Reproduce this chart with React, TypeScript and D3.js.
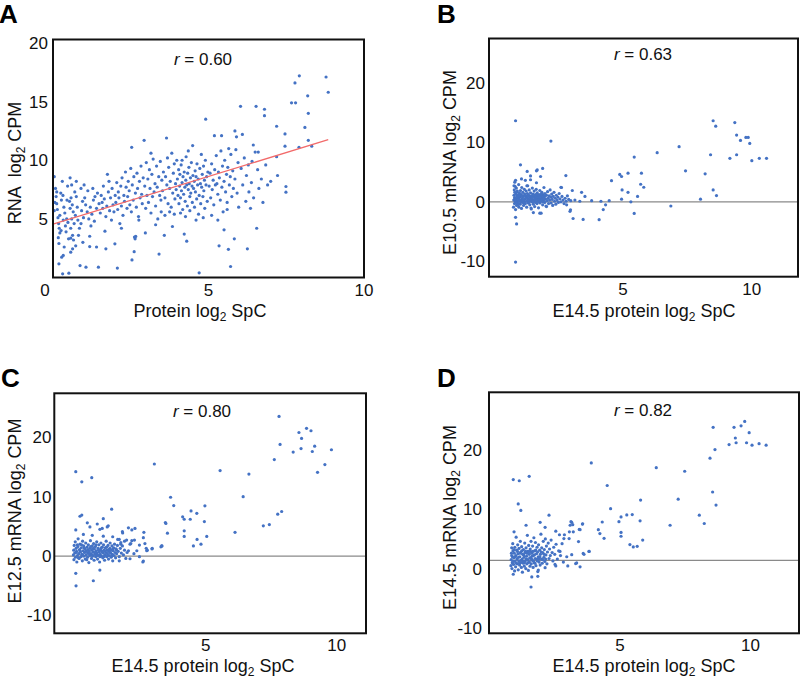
import React from 'react';
import * as d3 from 'd3';

type Pt = [number, number];

// ---------- DATA ----------
const panelLetters = ['A', 'B', 'C', 'D'];
const rValues = ['0.60', '0.63', '0.80', '0.82'];
const yTitlePre = ['RNA  log', 'E10.5 mRNA log', 'E12.5 mRNA log', 'E14.5 mRNA log'];
const yTitlePost = [' CPM', ' CPM', ' CPM', ' CPM'];
const xTitlePre = ['Protein log', 'E14.5 protein log', 'E14.5 protein log', 'E14.5 protein log'];
const xTitlePost = [' SpC', ' SpC', ' SpC', ' SpC'];
const xTicksA = [0, 5, 10];
const yTicksA = [5, 10, 15, 20];
const xTicksBCD = [5, 10];
const yTicksBCD = [-10, 0, 10, 20];
const refLineY = [null, 0, 0, 1.4];
const fitLineA: Pt[] = [[0, 4.55], [8.85, 11.75]];

const pointsA: Pt[] = [
  [0.04,8.6],[0.04,5.7],[0.08,7.6],[0.1,6.9],[0.12,6.3],[0.14,5.8],[0.16,5.1],[0.18,4.6],[0.2,4.2],[0.22,3.8],[0.17,3.4],[0.19,2.9],[0.28,1.73],[0.33,1.88],[0.19,1.17],[0.31,0.31],[0.51,0.37],[0.25,7.2],[0.27,6.6],[0.3,8.2],[0.32,7.0],[0.35,6.0],[0.38,5.5],[0.33,4.9],[0.4,4.4],[0.42,3.9],[0.45,6.6],[0.47,7.8],[0.22,5.3],[0.26,4.0],[0.36,2.6],[0.44,5.0],[0.12,7.3],[0.06,6.4],[0.48,4.7],[0.5,3.3],
  [0.55,8.5],[0.6,7.9],[0.58,6.8],[0.62,6.2],[0.55,5.9],[0.65,5.6],[0.6,5.0],[0.68,4.6],[0.57,4.2],[0.63,3.6],[0.57,2.16],[0.63,2.45],[0.7,7.3],[0.75,6.9],[0.78,6.0],[0.72,5.3],[0.8,4.9],[0.85,4.2],[0.87,1.02],[0.9,7.6],[0.95,6.5],[0.92,5.7],[0.98,5.1],[0.66,3.2],[0.73,2.7],[0.82,3.6],[0.75,8.2],[0.9,4.6],[0.53,6.5],[0.96,3.0],[0.57,3.35],
  [1.02,6.8],[1.05,6.2],[1.06,0.88],[1.1,5.6],[1.12,7.4],[1.15,5.0],[1.18,3.52],[1.18,2.64],[1.2,6.0],[1.25,5.4],[1.28,7.6],[1.3,6.6],[1.33,4.8],[1.35,6.9],[1.4,2.6],[1.4,5.9],[1.43,7.2],[1.46,0.88],[1.48,6.3],[1.0,7.9],[1.22,4.4],
  [1.52,5.5],[1.55,7.0],[1.58,6.4],[1.6,5.9],[1.62,7.8],[1.65,6.7],[1.67,3.95],[1.7,2.45],[1.7,5.2],[1.73,6.1],[1.78,7.3],[1.8,8.2],[1.82,5.7],[1.85,6.8],[1.88,4.9],[1.9,7.6],[1.93,6.2],[1.96,5.6],[1.99,2.87],[2.0,7.0],[1.75,8.8],
  [2.02,6.4],[2.05,8.1],[2.07,0.8],[2.08,5.8],[2.1,7.3],[2.12,6.8],[2.15,4.6],[2.18,7.8],[2.2,6.1],[2.22,8.5],[2.25,5.3],[2.28,7.0],[2.3,6.5],[2.33,9.0],[2.35,7.7],[2.38,5.9],[2.4,6.9],[2.42,8.2],[2.45,7.4],[2.47,6.2],[2.5,9.3],[2.53,11.1],[2.54,1.5],[2.2,4.2],
  [2.52,5.6],[2.55,7.9],[2.58,6.6],[2.6,8.6],[2.61,2.2],[2.62,3.45],[2.64,3.3],[2.66,3.5],[2.65,7.2],[2.68,6.0],[2.7,8.9],[2.72,7.6],[2.75,5.2],[2.78,8.2],[2.8,6.8],[2.83,9.5],[2.85,7.1],[2.87,6.3],[2.9,8.5],[2.93,11.7],[2.95,7.8],[2.97,3.8],[2.98,5.9],[3.0,9.8],[2.76,4.9],
  [3.02,7.0],[3.05,8.4],[3.07,6.4],[3.1,9.2],[3.12,7.6],[3.15,5.5],[3.18,8.8],[3.2,6.9],[3.22,10.1],[3.25,7.3],[3.28,8.0],[3.3,6.1],[3.33,9.5],[3.35,7.7],[3.37,5.0],[3.4,8.6],[3.41,2.0],[3.43,7.0],[3.45,9.9],[3.47,6.6],[3.5,8.3],[3.48,5.6],[3.3,4.5],[3.15,10.6],
  [3.52,7.4],[3.55,9.0],[3.58,3.6],[3.6,6.8],[3.62,8.6],[3.65,11.9],[3.66,7.9],[3.68,10.2],[3.7,6.3],[3.72,9.4],[3.75,7.6],[3.77,8.2],[3.8,6.0],[3.82,10.6],[3.84,4.35],[3.85,7.2],[3.87,8.9],[3.9,9.7],[3.92,6.7],[3.94,8.0],[3.96,7.5],[3.98,10.0],[3.6,5.3],[3.75,5.6],[3.9,5.4],
  [4.0,8.4],[4.02,7.0],[4.04,9.2],[4.05,6.3],[4.07,7.8],[4.08,8.8],[4.1,6.8],[4.12,9.6],[4.13,7.4],[4.15,8.1],[4.17,5.8],[4.18,8.6],[4.2,7.1],[4.22,3.7],[4.22,9.0],[4.24,7.7],[4.25,6.5],[4.27,8.3],[4.28,10.3],[4.3,3.1],[4.3,7.9],[4.32,6.1],[4.33,8.9],[4.35,7.5],[4.37,9.4],[4.38,8.0],[4.4,6.9],[4.42,8.5],[4.43,7.2],[4.45,9.8],[4.47,7.8],[4.48,6.4],[4.49,11.25],[4.5,8.7],[4.1,5.5],[4.26,5.2],[4.4,5.7],[4.15,10.0],[4.35,10.8],
  [4.52,7.6],[4.54,8.2],[4.55,6.0],[4.57,9.1],[4.58,7.3],[4.6,8.6],[4.62,6.7],[4.63,9.7],[4.65,7.9],[4.67,8.4],[4.68,5.4],[4.7,0.4],[4.7,7.0],[4.72,9.3],[4.74,8.0],[4.75,6.3],[4.77,10.5],[4.78,7.7],[4.8,8.8],[4.82,6.9],[4.84,9.5],[4.85,7.4],[4.87,8.3],[4.88,5.9],[4.9,10.0],[4.91,13.5],[4.92,7.9],[4.94,8.6],[4.96,6.5],[4.98,9.0],[4.6,4.9],[4.83,5.1],
  [5.02,7.8],[5.05,8.9],[5.07,6.8],[5.1,9.7],[5.12,7.5],[5.15,8.3],[5.17,6.2],[5.19,12.1],[5.2,9.2],[5.22,7.9],[5.25,10.4],[5.27,8.0],[5.3,7.1],[5.32,9.0],[5.34,2.7],[5.35,8.5],[5.38,6.6],[5.4,10.8],[5.42,12.1],[5.43,7.7],[5.45,9.5],[5.47,5.6],[5.5,4.07],[5.5,8.2],[5.1,5.3],[5.3,4.9],
  [5.52,10.0],[5.55,7.3],[5.58,8.8],[5.6,6.4],[5.62,9.4],[5.64,2.4],[5.65,11.0],[5.67,7.9],[5.7,8.6],[5.71,0.94],[5.72,10.5],[5.75,6.9],[5.78,9.1],[5.8,7.6],[5.83,3.3],[5.85,12.5],[5.85,8.4],[5.88,10.9],[5.9,12.0],[5.92,7.2],[5.95,9.8],[5.97,6.0],[5.6,5.8],
  [6.03,14.6],[6.05,9.3],[6.09,12.2],[6.1,7.9],[6.15,10.2],[6.2,6.5],[6.22,8.7],[6.25,2.45],[6.28,9.6],[6.3,7.3],[6.35,5.9],[6.38,8.1],[6.4,9.9],[6.44,11.3],[6.45,6.8],[6.5,10.7],[6.53,14.6],
  [6.55,4.2],[6.58,9.2],[6.6,10.7],[6.62,7.6],[6.7,8.4],[6.75,6.4],[6.8,14.35],[6.8,13.8],[6.84,9.6],[6.9,7.9],[7.0,8.2],
  [7.19,12.9],[7.19,10.3],[7.22,8.7],[7.46,12.25],[7.46,11.2],[7.49,7.76],[7.49,7.28],[7.67,14.9],[7.78,16.6],[7.8,14.9],[7.91,11.1],[7.92,17.2],[8.1,12.8],[8.19,15.5],[8.21,14.0],[8.21,11.7],[8.32,11.2],[8.78,17.1],[8.85,15.8]
];

const pointsB: Pt[] = [
  [0.84,13.6],[2.21,10.2],[0.84,-10.1],[1.03,6.2],[1.89,5.6],[1.65,5.2],[1.29,5.1],[1.42,4.35],[1.07,3.85],[1.65,3.2],[1.22,3.6],[0.84,3.6],[0.84,-2.6],[0.88,-3.7],[2.79,4.4],[2.62,2.4],[3.04,1.9],[3.4,1.6],[3.53,0.9],[2.98,0.2],[3.14,0.3],[3.33,0.1],[3.79,0.2],[4.15,0.1],[4.47,0.2],[2.95,-1.6],[3.07,-2.8],[3.46,-2.95],[4.08,-3.0],[4.24,-1.3],[4.33,-0.5],[4.56,3.55],[4.88,4.6],[4.95,4.25],[5.2,4.8],[4.97,2.0],[5.2,1.6],[4.95,0.45],[5.31,0],[5.44,7.5],[5.72,4.8],[5.69,2.95],[5.81,2.45],[5.57,0.9],[5.44,-1.95],[6.33,8.25],[7.18,9.25],[7.43,5.2],[6.86,-0.7],[8.01,0.45],[8.19,4.7],[8.4,7.9],[8.5,13.6],[8.6,12.7],[8.5,2.0],[8.63,1.05],[9.34,13.3],[9.41,11.2],[9.56,10.3],[9.77,10.8],[9.86,10.8],[9.92,9.8],[9.41,7.9],[9.15,7.3],[10.0,6.9],[10.29,7.3],[10.57,7.3],
  [1.68,5.36],[1.81,4.25],[1.42,3.7],[0.81,3.3],[0.78,2.7],[1.28,2.7],[2.6,2.45],[1.44,-1.05],[1.53,-1.8],[1.78,-1.9],[2.82,-0.5],[2.97,-1.34],
  [0.76,-0.9],[0.77,0.3],[0.78,1.1],[0.79,2.0],[0.8,-0.3],[0.8,0.7],[0.81,1.6],[0.82,2.6],[0.83,0.0],[0.84,-1.3],[0.85,0.5],[0.86,1.3],[0.87,2.3],[0.88,-0.6],[0.89,0.9],[0.9,0.2],[0.91,1.8],[0.92,-0.2],[0.93,1.1],[0.95,0.6],[0.96,2.9],[0.97,-0.9],[0.98,0.1],[0.99,1.5],
  [1.01,0.8],[1.02,-0.4],[1.03,1.9],[1.05,0.3],[1.06,1.2],[1.07,-1.1],[1.08,2.4],[1.1,0.6],[1.11,-0.1],[1.12,1.6],[1.14,0.9],[1.15,-0.6],[1.16,0.2],[1.18,2.1],[1.19,1.3],[1.2,0.5],
  [1.22,-0.3],[1.23,1.0],[1.25,1.8],[1.26,0.1],[1.27,-0.9],[1.28,0.7],[1.3,1.4],[1.31,2.7],[1.33,-0.2],[1.34,0.4],[1.35,1.1],[1.37,2.0],[1.38,0.8],[1.39,-0.5],[1.4,0.2],
  [1.42,1.5],[1.43,0.6],[1.45,-1.2],[1.46,1.0],[1.47,0.0],[1.49,2.3],[1.5,0.4],[1.51,1.3],[1.53,-0.4],[1.54,0.9],[1.56,1.8],[1.57,0.2],[1.58,-0.8],[1.6,0.7],[1.61,1.2],
  [1.63,0.0],[1.64,2.1],[1.66,0.5],[1.67,-0.3],[1.68,1.5],[1.7,0.9],[1.72,0.2],[1.73,-1.0],[1.75,1.2],[1.76,0.6],[1.78,1.9],[1.79,-0.2],[1.8,0.4],[1.82,1.0],[1.83,-1.9],
  [1.85,0.1],[1.86,1.6],[1.88,0.7],[1.89,-0.5],[1.9,1.2],[1.92,0.3],[1.94,2.4],[1.95,0.9],[1.97,-0.1],[1.98,1.4],[2.0,0.5],[2.02,-0.7],[2.04,1.1],[2.04,-0.8],[2.06,0.2],[2.08,1.7],[2.1,0.6],[2.12,-0.3],[2.14,1.0],[2.16,0.3],[2.18,2.0],[2.2,0.8],[2.22,-0.2],[2.24,1.3],[2.26,0.4],[2.28,-0.6],[2.3,0.9],[2.33,1.6],[2.35,0.1],[2.38,0.6],[2.4,-0.4],[2.42,1.1],[2.45,0.3],[2.48,0.8],[2.5,-0.1],[2.53,1.4],[2.56,0.5],[2.6,0.0],[2.64,0.9],[2.68,0.3],[2.72,-0.3],[2.76,0.6],[2.8,0.1],[2.85,1.0],[2.9,0.4],
  [0.82,0.4],[0.85,-0.1],[0.88,1.6],[0.92,0.9],[0.94,-0.5],[0.97,0.4],[1.0,1.2],[1.04,0.0],[1.09,1.0],[1.13,0.3],[1.17,-0.2],[1.21,1.1],[1.24,0.6],[1.29,0.2],[1.32,1.0],[1.36,-0.1],[1.41,0.9],[1.44,0.3],[1.48,0.7],[1.52,0.0],[1.55,1.1],[1.59,0.4],[1.62,-0.1],[1.65,0.9],[1.69,0.3],[1.71,1.1],[1.74,0.0],[1.77,0.8],[1.81,0.2],[1.84,1.3],[1.87,0.4],[1.91,0.0],[1.93,0.8],[1.96,0.4],[1.99,1.0]
];

const pointsC: Pt[] = [
  [7.8,23.5],[8.56,20.8],[8.85,21.5],[9.02,21.1],[8.66,19.8],[9.16,18.5],[7.84,18.8],[8.34,17.5],[8.64,18.1],[9.07,17.6],[9.8,17.9],[7.62,16.25],[9.55,15.4],[9.27,14.1],[5.55,14.4],[6.65,13.8],[3.04,15.5],[0.04,14.2],[0.27,12.5],[0.65,13.2],[6.43,10.0],[3.66,9.9],[3.78,8.5],[4.97,8.45],[1.41,7.9],[4.44,7.6],[4.66,7.2],[4.12,6.6],[4.18,6.2],[4.41,6.2],[4.95,5.8],[0.2,6.7],[0.27,6.9],[3.46,5.65],[3.54,3.85],[3.33,1.7],[3.29,1.55],[4.18,4.25],[4.18,3.3],[4.53,1.7],[4.67,2.8],[4.82,2.0],[5.04,3.3],[6.12,4.0],[7.2,5.1],[7.43,5.3],[7.75,7.05],[7.9,7.5],[2.95,1.2],[2.75,0.9],[2.73,1.3],[2.47,-0.1],[2.6,-1.0],[2.64,4.0],[2.62,3.1],[2.68,2.1],[0.04,-2.9],[0.05,-5.0],[0.71,-4.15],[0.96,-2.35],[0.48,5.6],[0.58,4.9],[0.86,5.4],[0.96,4.5],[1.09,6.3],[1.24,4.9],[2.05,4.75],[2.18,4.4],[2.3,4.65],[2.28,2.7],[2.11,2.0],[1.9,2.5],[1.76,2.0],[1.6,1.0],[1.83,3.9],[1.45,3.25],[1.64,2.8],
  [0.04,4.4],[0.33,3.65],[0.67,3.5],[1.09,3.35],[1.82,4.1],[2.18,2.6],[1.98,2.7],[1.7,2.8],[1.76,2.25],[2.14,2.1],[2.47,1.85],[2.37,0.9],[2.05,0.9],[2.26,0.4],[2.77,1.0],[2.96,1.3],[2.62,-0.85],[2.11,-0.45],[1.7,-0.8],[3.32,1.7],[3.48,5.5],[1.05,4.65],[1.28,5.1],
  [-0.05,0.2],[-0.04,1.0],[-0.03,-0.6],[-0.02,1.8],[0.0,0.5],[0.02,2.4],[0.03,-0.2],[0.05,1.3],[0.07,0.8],[0.08,-1.0],[0.1,0.1],[0.12,1.6],[0.13,2.9],[0.15,0.4],[0.17,-0.4],[0.18,1.1],[0.2,2.0],[0.22,0.7],[0.24,-0.1],[0.25,1.4],[0.27,0.3],[0.29,-0.8],[0.3,2.5],[0.32,0.9],[0.34,1.7],[0.35,0.0],[0.37,0.6],[0.39,1.2],[0.4,-0.5],[0.42,2.2],[0.44,0.2],[0.45,0.9],[0.47,1.5],[0.49,-0.2],[0.5,0.5],[0.52,1.9],[0.54,-1.1],[0.55,0.8],[0.57,0.1],[0.59,1.3],[0.6,2.6],[0.62,0.4],[0.64,-0.4],[0.65,1.0],[0.67,1.7],[0.69,0.0],[0.7,0.7],[0.72,2.1],[0.74,-0.7],[0.75,1.2],[0.77,0.3],[0.79,1.6],[0.8,-0.1],[0.82,0.9],[0.84,2.4],[0.85,0.5],[0.87,-0.5],[0.89,1.3],[0.9,0.1],[0.92,1.9],[0.94,0.7],[0.95,-1.0],[0.97,0.3],[0.99,1.1],[1.0,2.2],[1.02,0.0],[1.04,0.8],[1.05,1.5],[1.07,-0.3],[1.09,0.5],[1.1,1.9],[1.12,1.0],[1.14,-0.7],[1.15,0.2],[1.17,1.4],[1.19,0.6],[1.2,2.5],[1.22,-0.1],[1.24,1.0],[1.25,0.4],[1.27,1.8],[1.29,-0.5],[1.3,0.8],[1.32,0.1],[1.34,1.3],[1.35,2.2],[1.37,0.5],[1.39,-0.2],[1.4,1.0],[1.42,1.7],[1.44,0.3],[1.45,-0.8],[1.47,0.9],[1.49,1.4],[1.5,0.1],[1.52,2.0],[1.54,0.6],[1.56,-0.3],[1.58,1.2],[1.6,0.4],[1.63,1.8],[1.66,0.8],[1.7,-0.1],[1.74,1.3],[1.78,0.5],[1.82,1.7],[1.86,0.2],[1.9,1.0],[1.95,-0.4],[2.0,0.6],
  [0.05,0.6],[0.1,1.9],[0.14,-0.3],[0.2,0.9],[0.26,1.9],[0.31,0.2],[0.36,1.4],[0.41,0.7],[0.46,-0.6],[0.51,1.1],[0.56,0.4],[0.61,1.6],[0.66,0.2],[0.71,1.3],[0.76,0.6],[0.81,1.9],[0.86,0.2],[0.91,1.0],[0.96,-0.1],[1.01,1.4],[1.06,0.6],[1.11,-0.1],[1.16,0.9],[1.21,1.5],[1.26,0.1],[1.31,1.1],[1.36,0.6],[1.41,0.0],[1.46,1.2]
];

const pointsD: Pt[] = [
  [8.57,23.8],[9.37,23.8],[9.64,24.05],[9.78,24.8],[9.95,22.9],[9.42,22.0],[9.45,21.2],[9.18,20.9],[9.85,21.2],[10.06,20.8],[10.33,21.05],[10.6,20.8],[8.64,20.05],[8.45,18.6],[3.9,17.8],[6.39,17.0],[7.48,16.4],[4.51,14.0],[8.55,12.9],[8.68,10.7],[7.23,11.7],[5.79,11.55],[4.64,10.1],[8.04,9.0],[8.23,7.6],[6.92,7.3],[5.26,9.05],[5.47,9.1],[5.04,8.7],[4.96,7.9],[5.77,8.05],[5.04,6.1],[5.04,5.45],[5.38,4.05],[5.51,3.65],[5.66,3.75],[5.87,4.8],[4.32,7.85],[4.17,6.55],[4.23,5.9],[4.39,5.1],[3.82,2.9],[3.59,2.55],[3.57,7.55],[3.44,6.6],[3.12,7.9],[3.19,7.4],[3.06,6.2],[2.85,5.05],[3.21,6.2],[3.34,0.95],[3.47,0.3],[2.28,9.0],[0.91,15.0],[1.14,14.8],[1.52,15.55],[1.1,10.9],[1.2,9.8],[1.59,-3.1],[1.62,-1.4],[1.85,-1.3],[0.91,-0.95],[0.94,6.2],[1.4,7.3],[1.94,7.8],[2.13,6.95],[2.54,6.3],[2.68,5.7],[2.87,5.7],[3.05,5.05],[3.15,7.8],[3.09,7.3],[3.56,7.5],[3.47,6.55],[3.41,4.55],[3.62,2.4],[3.81,2.9],[3.3,0.85],[3.15,2.35],[2.96,2.0],[2.7,2.9],[2.51,0.7],[2.54,0.45],[3.0,0.45],[2.83,1.1],[2.13,0.15],[1.87,-0.25],
  [0.82,0.5],[0.83,1.5],[0.84,2.6],[0.85,3.5],[0.86,0.0],[0.87,1.0],[0.88,2.0],[0.89,4.2],[0.9,3.0],[0.92,0.7],[0.93,1.8],[0.95,2.6],[0.96,-0.4],[0.97,3.6],[0.98,1.2],[1.0,0.3],[1.01,2.2],[1.02,5.3],[1.04,3.1],[1.05,1.6],[1.06,0.8],[1.08,4.0],[1.09,2.5],[1.1,-0.2],[1.12,1.3],[1.13,3.4],[1.15,0.6],[1.16,2.0],[1.18,4.6],[1.19,1.0],[1.2,2.8],[1.22,0.2],[1.23,3.7],[1.25,1.6],[1.26,-0.6],[1.27,2.4],[1.29,0.9],[1.3,3.2],[1.32,1.9],[1.33,0.4],[1.35,4.3],[1.36,2.7],[1.37,1.3],[1.39,0.0],[1.4,3.5],[1.42,2.1],[1.43,0.8],[1.45,5.6],[1.46,2.9],[1.47,1.5],[1.49,-0.3],[1.5,3.9],[1.52,2.4],[1.53,1.1],[1.55,0.4],[1.56,3.3],[1.58,1.8],[1.59,4.6],[1.6,0.8],[1.62,2.6],[1.64,1.4],[1.65,3.8],[1.67,0.2],[1.68,2.2],[1.7,5.2],[1.71,1.0],[1.73,3.0],[1.75,1.7],[1.76,4.4],[1.78,0.5],[1.8,2.5],[1.82,3.6],[1.83,1.3],[1.85,-0.5],[1.87,2.0],[1.88,4.0],[1.9,1.1],[1.92,3.1],[1.94,0.6],[1.95,2.4],[1.97,5.8],[1.99,1.6],[2.0,3.5],[2.02,0.9],[2.04,2.7],[2.06,4.6],[2.08,1.9],[2.1,3.2],[2.12,1.2],[2.14,5.0],[2.16,2.3],[2.18,3.8],[2.2,0.8],[2.22,2.8],[2.25,4.3],[2.28,1.7],[2.3,3.3],[2.33,2.2],[2.36,4.8],[2.4,2.7],[2.43,1.3],[2.46,3.6],[2.5,2.4],[2.55,4.1],[2.6,1.6],[2.65,3.0],[2.72,2.2],[2.78,4.2],
  [0.85,2.2],[0.9,1.2],[0.94,3.2],[0.99,2.0],[1.03,0.9],[1.07,2.9],[1.11,1.9],[1.14,0.9],[1.17,2.6],[1.21,1.4],[1.24,3.0],[1.28,1.2],[1.31,2.3],[1.34,1.0],[1.38,2.9],[1.41,1.6],[1.44,2.6],[1.48,1.0],[1.51,2.9],[1.54,1.8],[1.57,2.9],[1.61,1.6],[1.63,2.1],[1.66,2.9],[1.69,1.3],[1.72,2.3],[1.74,0.9],[1.77,3.1],[1.81,1.6],[1.84,2.8],[1.89,1.6],[1.93,2.0],[1.98,2.8],[2.03,1.5],[2.09,2.4],[2.15,1.6]
];

// ---------- LAYOUT ----------
interface PanelCfg {
  idx: number;
  box: [number, number, number, number]; // left, top, right, bottom
  xDom: [number, number];
  yDom: [number, number];
  xTicks: number[];
  yTicks: number[];
  data: Pt[];
  letterPos: [number, number];
  rPos: [number, number];
  yTitlePos: [number, number];
  xTitlePos: [number, number];
  yLabelRight: number;
  fit?: Pt[];
}

const panels: PanelCfg[] = [
  { idx: 0, box: [53, 39.5, 364, 277.5], xDom: [0, 10], yDom: [0, 20.3], xTicks: xTicksA, yTicks: yTicksA, data: pointsA,
    letterPos: [-1, 23], rPos: [203, 65], yTitlePos: [21, 163], xTitlePos: [200, 317], yLabelRight: 48, fit: fitLineA },
  { idx: 1, box: [489, 38.5, 798, 276.7], xDom: [-0.19, 11.79], yDom: [-12.56, 27.4], xTicks: xTicksBCD, yTicks: yTicksBCD, data: pointsB,
    letterPos: [437, 23], rPos: [643, 60], yTitlePos: [456, 162.5], xTitlePos: [644, 317], yLabelRight: 485 },
  { idx: 2, box: [54.3, 393.3, 366, 633.3], xDom: [-0.78, 11.12], yDom: [-13.0, 27.4], xTicks: xTicksBCD, yTicks: yTicksBCD, data: pointsC,
    letterPos: [1, 387], rPos: [202, 416.5], yTitlePos: [21, 511], xTitlePos: [203, 672], yLabelRight: 51.5 },
  { idx: 3, box: [489, 392.3, 799, 633.3], xDom: [-0.02, 11.86], yDom: [-10.9, 29.7], xTicks: xTicksBCD, yTicks: yTicksBCD, data: pointsD,
    letterPos: [437, 387], rPos: [643, 416], yTitlePos: [456, 517.5], xTitlePos: [644, 672], yLabelRight: 482 },
];

const FONT = '"Liberation Sans", Arial, Helvetica, sans-serif';
const DOT = '#4472c4';

function Panel({ p }: { p: PanelCfg }) {
  const [l, t, r, b] = p.box;
  const x = d3.scaleLinear().domain(p.xDom).range([l, r]);
  const y = d3.scaleLinear().domain(p.yDom).range([b, t]);
  const ref = refLineY[p.idx];
  const line = d3.line<Pt>().x(d => x(d[0])).y(d => y(d[1]));
  return (
    <g fontFamily={FONT}>
      <text x={p.letterPos[0]} y={p.letterPos[1]} fontSize={26} fontWeight="bold" fill="#000">{panelLetters[p.idx]}</text>
      {ref !== null && (
        <line x1={l} x2={r} y1={y(ref as number)} y2={y(ref as number)} stroke="#8a8a8a" strokeWidth={1.3} />
      )}
      <g>
        {p.data.map((d, i) => (
          <circle key={i} cx={x(d[0])} cy={y(d[1])} r={1.6} fill={DOT} />
        ))}
      </g>
      {p.fit && <path d={line(p.fit) || ''} stroke="#f26a6a" strokeWidth={1.3} fill="none" />}
      <rect x={l} y={t} width={r - l} height={b - t} fill="none" stroke="#111" strokeWidth={2} />
      {p.xTicks.map(v => (
        <text key={'x' + v} x={x(v) + (p.idx === 0 && v === 0 ? -8 : 0)} y={b + 18} fontSize={17} textAnchor="middle" fill="#111">{v}</text>
      ))}
      {p.yTicks.map(v => (
        <text key={'y' + v} x={p.yLabelRight} y={y(v)} dy="0.35em" fontSize={17} textAnchor="end" fill="#111">{v}</text>
      ))}
      <text x={p.rPos[0]} y={p.rPos[1]} fontSize={17} textAnchor="middle" fill="#111">
        <tspan fontStyle="italic">r</tspan> = {rValues[p.idx]}
      </text>
      <text x={p.xTitlePos[0]} y={p.xTitlePos[1]} fontSize={18} textAnchor="middle" fill="#111" style={{ whiteSpace: 'pre' }}>
        {xTitlePre[p.idx]}<tspan fontSize={12} dy={4}>2</tspan><tspan dy={-4}>{xTitlePost[p.idx]}</tspan>
      </text>
      <text transform={`translate(${p.yTitlePos[0]},${p.yTitlePos[1]}) rotate(-90)`} fontSize={18} textAnchor="middle" fill="#111" style={{ whiteSpace: 'pre' }}>
        {yTitlePre[p.idx]}<tspan fontSize={12} dy={4}>2</tspan><tspan dy={-4}>{yTitlePost[p.idx]}</tspan>
      </text>
    </g>
  );
}

export default function App() {
  return (
    <svg width={800} height={680} viewBox="0 0 800 680" style={{ position: 'absolute', left: 0, top: 0, background: '#fff' }}>
      <rect x={0} y={0} width={800} height={680} fill="#fff" />
      {panels.map(p => <Panel key={p.idx} p={p} />)}
    </svg>
  );
}
